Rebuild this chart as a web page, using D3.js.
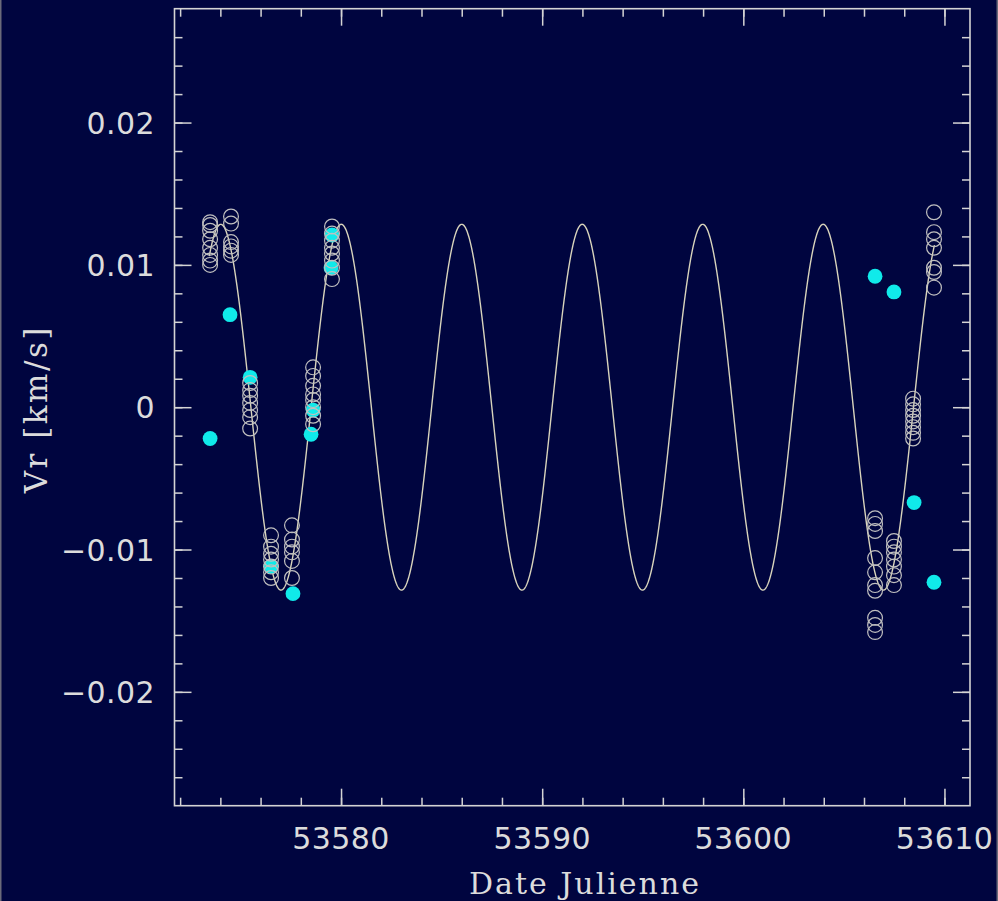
<!DOCTYPE html>
<html>
<head>
<meta charset="utf-8">
<script src="https://cdn.jsdelivr.net/npm/d3@7"></script>
<style>
  html, body { margin: 0; padding: 0; background: #00053f; }
  svg { display: block; }
</style>
</head>
<body>
<svg id="chart" width="998" height="901"></svg>
<script>
// ---- Data ----
const xDomain = [53571.72, 53611.27];
const yDomain = [-0.028, 0.028];
const xTickValues = [53580, 53590, 53600, 53610];
const yTickValues = [-0.02, -0.01, 0, 0.01, 0.02];
const xTickLabels = ["53580", "53590", "53600", "53610"];
const yTickLabels = ["\u22120.02", "\u22120.01", "0", "0.01", "0.02"];

// open-circle observations: one date per night, several Vr values per night
const nightDates = [53573.49, 53574.53, 53575.48, 53576.52, 53577.56, 53578.61, 53579.55,
                    53606.55, 53607.49, 53608.44, 53609.48];
const nightVr = [
  [0.0130, 0.0128, 0.0124, 0.0118, 0.0112, 0.0107, 0.0103, 0.0100],
  [0.0134, 0.0129, 0.0116, 0.0113, 0.0110, 0.0107],
  [0.0017, 0.0012, 0.0008, 0.0003, -0.0002, -0.0007, -0.0015],
  [-0.0090, -0.0098, -0.0103, -0.0107, -0.0112, -0.0116, -0.0120],
  [-0.0083, -0.0093, -0.0098, -0.0102, -0.0108, -0.0120],
  [0.0028, 0.0022, 0.0015, 0.0009, 0.0005, 0.0000, -0.0006, -0.0012],
  [0.0127, 0.0122, 0.0117, 0.0112, 0.0108, 0.0103, 0.0098, 0.0090],
  [-0.0078, -0.0082, -0.0087, -0.0106, -0.0116, -0.0125, -0.0129, -0.0148, -0.0153, -0.0158],
  [-0.0094, -0.0098, -0.0102, -0.0107, -0.0112, -0.0118, -0.0125],
  [0.0006, 0.0002, -0.0002, -0.0006, -0.0010, -0.0014, -0.0018, -0.0022],
  [0.0137, 0.0123, 0.0118, 0.0112, 0.0098, 0.0095, 0.0084]
];

// filled cyan points
const cyanDates = [53573.49, 53574.48, 53575.48, 53576.52, 53577.61, 53578.51, 53578.61,
                   53579.55, 53579.50, 53606.55, 53607.49, 53608.49, 53609.48];
const cyanVr = [-0.0022, 0.0065, 0.0021, -0.0112, -0.0131, -0.0019, -0.0002,
                0.0121, 0.0098, 0.0092, 0.0081, -0.0067, -0.0123];

// fitted orbit model (sinusoid)
const modelAmplitude = 0.01285;
const modelPeriod = 5.99;
const modelEpochMax = 53586.0;
const modelStart = 53573.45;
const modelEnd = 53609.5;

// ---- Layout ----
const svg = d3.select("#chart");
const W = 998, H = 901;
const mLeft = 174.5, mRight = 970, mTop = 8.7, mBottom = 805.7;
const axisColor = "#d4d4d4";

svg.append("rect").attr("width", W).attr("height", H).attr("fill", "#00053f");
svg.append("line").attr("x1", 0.75).attr("x2", 0.75).attr("y1", 0).attr("y2", H)
  .attr("stroke", "#6a6a7a").attr("stroke-width", 1.5);
svg.append("line").attr("x1", W - 0.75).attr("x2", W - 0.75).attr("y1", 0).attr("y2", H)
  .attr("stroke", "#6a6a7a").attr("stroke-width", 1.5);

const x = d3.scaleLinear().domain(xDomain).range([mLeft, mRight]);
const y = d3.scaleLinear().domain(yDomain).range([mBottom, mTop]);

// ---- Frame + ticks (inward, mirrored) ----
const g = svg.append("g");
function drawAxis(axisGen, tx, ty) {
  const a = g.append("g").attr("transform", `translate(${tx},${ty})`).call(axisGen);
  a.select(".domain").remove();
  a.selectAll("line").attr("stroke", axisColor).attr("stroke-width", 1.5);
  a.selectAll("text").remove();
  return a;
}
const xMinor = d3.range(53572, 53611.1, 2);
const yMinor = d3.range(-0.026, 0.02701, 0.002).map(v => +v.toFixed(4));
const majLen = 17, minLen = 8;

drawAxis(d3.axisTop(x).tickValues(xMinor).tickSize(minLen), 0, mBottom);
drawAxis(d3.axisTop(x).tickValues(xTickValues).tickSize(majLen), 0, mBottom);
drawAxis(d3.axisBottom(x).tickValues(xMinor).tickSize(minLen), 0, mTop);
drawAxis(d3.axisBottom(x).tickValues(xTickValues).tickSize(majLen), 0, mTop);
drawAxis(d3.axisRight(y).tickValues(yMinor).tickSize(minLen), mLeft, 0);
drawAxis(d3.axisRight(y).tickValues(yTickValues).tickSize(majLen), mLeft, 0);
drawAxis(d3.axisLeft(y).tickValues(yMinor).tickSize(minLen), mRight, 0);
drawAxis(d3.axisLeft(y).tickValues(yTickValues).tickSize(majLen), mRight, 0);

g.append("rect").attr("x", mLeft).attr("y", mTop)
  .attr("width", mRight - mLeft).attr("height", mBottom - mTop)
  .attr("fill", "none").attr("stroke", axisColor).attr("stroke-width", 1.6);

// tick labels
const labelFont = "'DejaVu Sans', sans-serif";
g.selectAll(".xl").data(xTickValues).join("text")
  .attr("x", d => x(d)).attr("y", 849)
  .attr("text-anchor", "middle")
  .attr("font-family", labelFont).attr("font-size", 30)
  .attr("letter-spacing", 0.4)
  .attr("fill", "#dcdcdc")
  .text((d, i) => xTickLabels[i]);
g.selectAll(".yl").data(yTickValues).join("text")
  .attr("x", 155).attr("y", d => y(d) + 11)
  .attr("text-anchor", "end")
  .attr("font-family", labelFont).attr("font-size", 30)
  .attr("letter-spacing", 0.4)
  .attr("fill", "#dcdcdc")
  .text((d, i) => yTickLabels[i]);

// axis titles
const titleFont = "'DejaVu Serif', serif";
svg.append("text").attr("x", 585).attr("y", 894)
  .attr("text-anchor", "middle")
  .attr("font-family", titleFont).attr("font-size", 30)
  .attr("letter-spacing", 2)
  .attr("fill", "#dcdcdc").text("Date Julienne");
svg.append("text")
  .attr("transform", `translate(47,${(mTop + mBottom) / 2 + 2}) rotate(-90)`)
  .attr("text-anchor", "middle")
  .attr("font-family", titleFont).attr("font-size", 31)
  .attr("letter-spacing", 2.5)
  .attr("fill", "#dcdcdc").text("Vr [km/s]");

// ---- Model curve ----
const plot = svg.append("g");
const modelT = d3.range(modelStart, modelEnd, 0.02).concat([modelEnd]);
const line = d3.line()
  .x(t => x(t))
  .y(t => y(modelAmplitude * Math.cos(2 * Math.PI * (t - modelEpochMax) / modelPeriod)));
plot.append("path").datum(modelT)
  .attr("d", line).attr("fill", "none")
  .attr("stroke", "#d8d4bc").attr("stroke-width", 1.4);

// ---- Cyan points ----
const cyanData = cyanDates.map((t, i) => ({ t, v: cyanVr[i] }));
plot.selectAll(".cy").data(cyanData).join("circle")
  .attr("cx", d => x(d.t)).attr("cy", d => y(d.v)).attr("r", 7.4)
  .attr("fill", "#10eaea");

// ---- Open circles ----
const openData = [];
nightDates.forEach((t, i) => nightVr[i].forEach(v => openData.push({ t, v })));
plot.selectAll(".oc").data(openData).join("circle")
  .attr("cx", d => x(d.t)).attr("cy", d => y(d.v)).attr("r", 7.4)
  .attr("fill", "none").attr("stroke", "#c0c0c0").attr("stroke-width", 1.2);
</script>
</body>
</html>
